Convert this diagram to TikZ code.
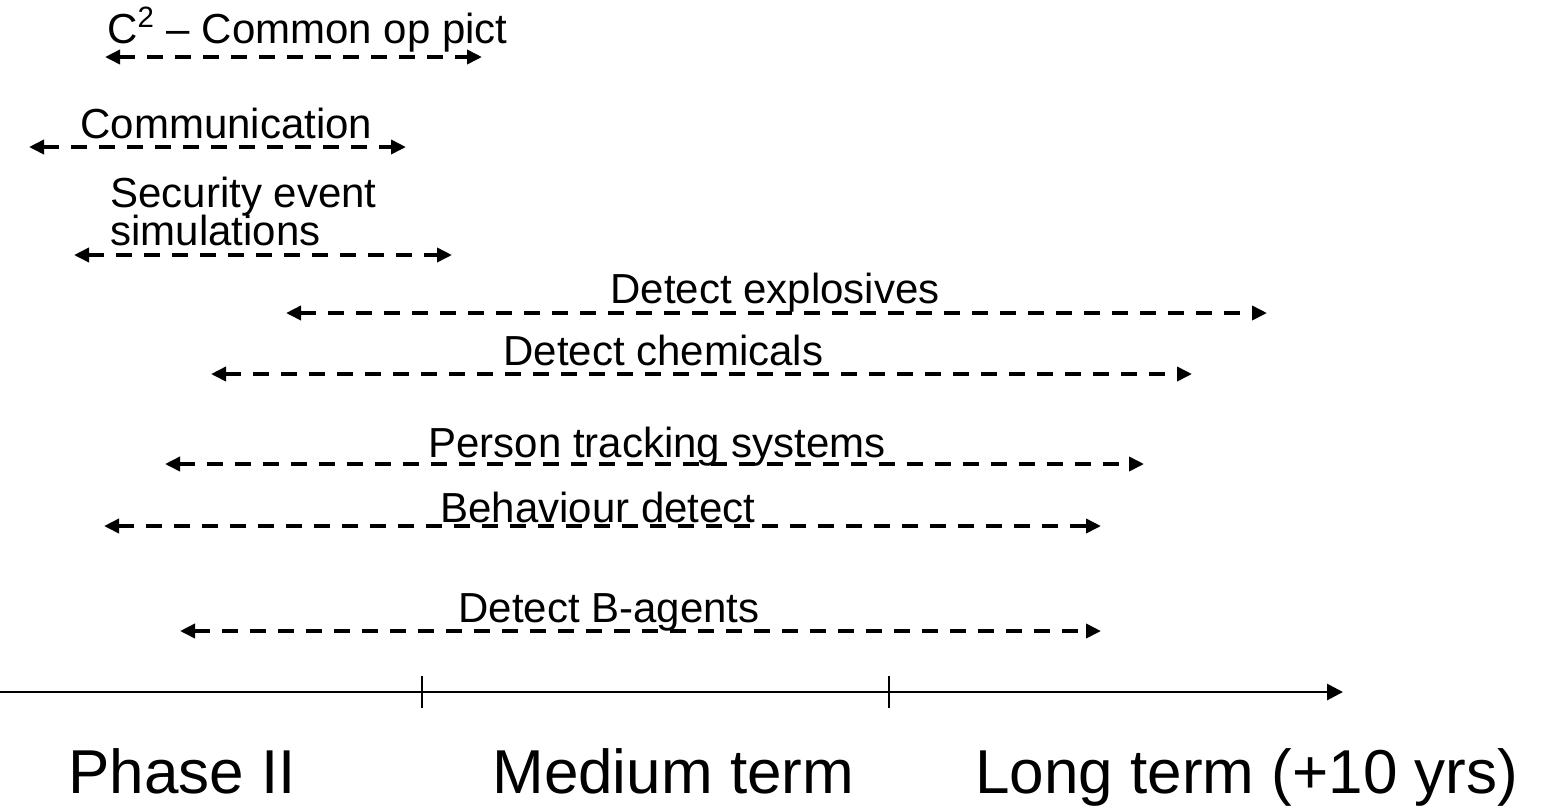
\documentclass[tikz,border=0pt]{standalone}
\usepackage{fontspec}
\setmainfont{Liberation Sans}
\usetikzlibrary{arrows.meta}
\begin{document}
\begin{tikzpicture}[x=0.5pt,y=-0.5pt,
  lbl/.style={anchor=base west,inner sep=0pt,font=\fontsize{21}{25}\selectfont},
  phase/.style={anchor=base west,inner sep=0pt,font=\fontsize{31}{37}\selectfont},
  span/.style={line width=1.8pt,dash pattern=on 8pt off 6pt,
    {Triangle[length=7.5pt,width=7pt]}-{Triangle[length=7.5pt,width=7pt]}},
  axis/.style={line width=1.4pt,-{Triangle[length=8pt,width=8pt]}},
  tick/.style={line width=0.8pt}]
\useasboundingbox (0,0) rectangle (1546,805);

% activity labels
\node[lbl] (c2)     at (107,43)  {C\textsuperscript{2} – Common op pict};
\node[lbl] (comm)   at (80,138)  {Communication};
\node[lbl] (sec1)   at (110,207) {Security event};
\node[lbl] (sec2)   at (110,245) {simulations};
\node[lbl] (expl)   at (610,303) {Detect explosives};
\node[lbl] (chem)   at (503,365) {Detect chemicals};
\node[lbl] (person) at (428,457) {Person tracking systems};
\node[lbl] (behav)  at (440,522) {Behaviour detect};
\node[lbl] (bagent) at (458,622) {Detect B-agents};

% end points of the time spans
\coordinate (c2L) at (105,57);     \coordinate (c2R) at (482,57);
\coordinate (commL) at (29,147);   \coordinate (commR) at (406,147);
\coordinate (secL) at (74,255);    \coordinate (secR) at (452,255);
\coordinate (explL) at (286,313);  \coordinate (explR) at (1267,313);
\coordinate (chemL) at (211,374);  \coordinate (chemR) at (1192,374);
\coordinate (persL) at (165,464);  \coordinate (persR) at (1144,464);
\coordinate (behavL) at (104,526); \coordinate (behavR) at (1101,526);
\coordinate (bagL) at (180,631);   \coordinate (bagR) at (1101,631);

\draw[span] (c2L) -- (c2R);
\draw[span] (commL) -- (commR);
\draw[span] (secL) -- (secR);
\draw[span] (explL) -- (explR);
\draw[span] (chemL) -- (chemR);
\draw[span] (persL) -- (persR);
\draw[span] (behavL) -- (behavR);
\draw[span] (bagL) -- (bagR);

% time axis with phase boundaries
\coordinate (axL) at (0,692);
\coordinate (axR) at (1343,692);
\draw[axis] (axL) -- (axR);
\coordinate (t1a) at (422,676); \coordinate (t1b) at (422,708);
\coordinate (t2a) at (889,676); \coordinate (t2b) at (889,708);
\draw[tick] (t1a) -- (t1b);
\draw[tick] (t2a) -- (t2b);

% phase labels
\node[phase] (p1) at (68,793)  {Phase II};
\node[phase] (p2) at (492,793) {Medium term};
\node[phase] (p3) at (975,793) {Long term (+10 yrs)};
\end{tikzpicture}
\end{document}
